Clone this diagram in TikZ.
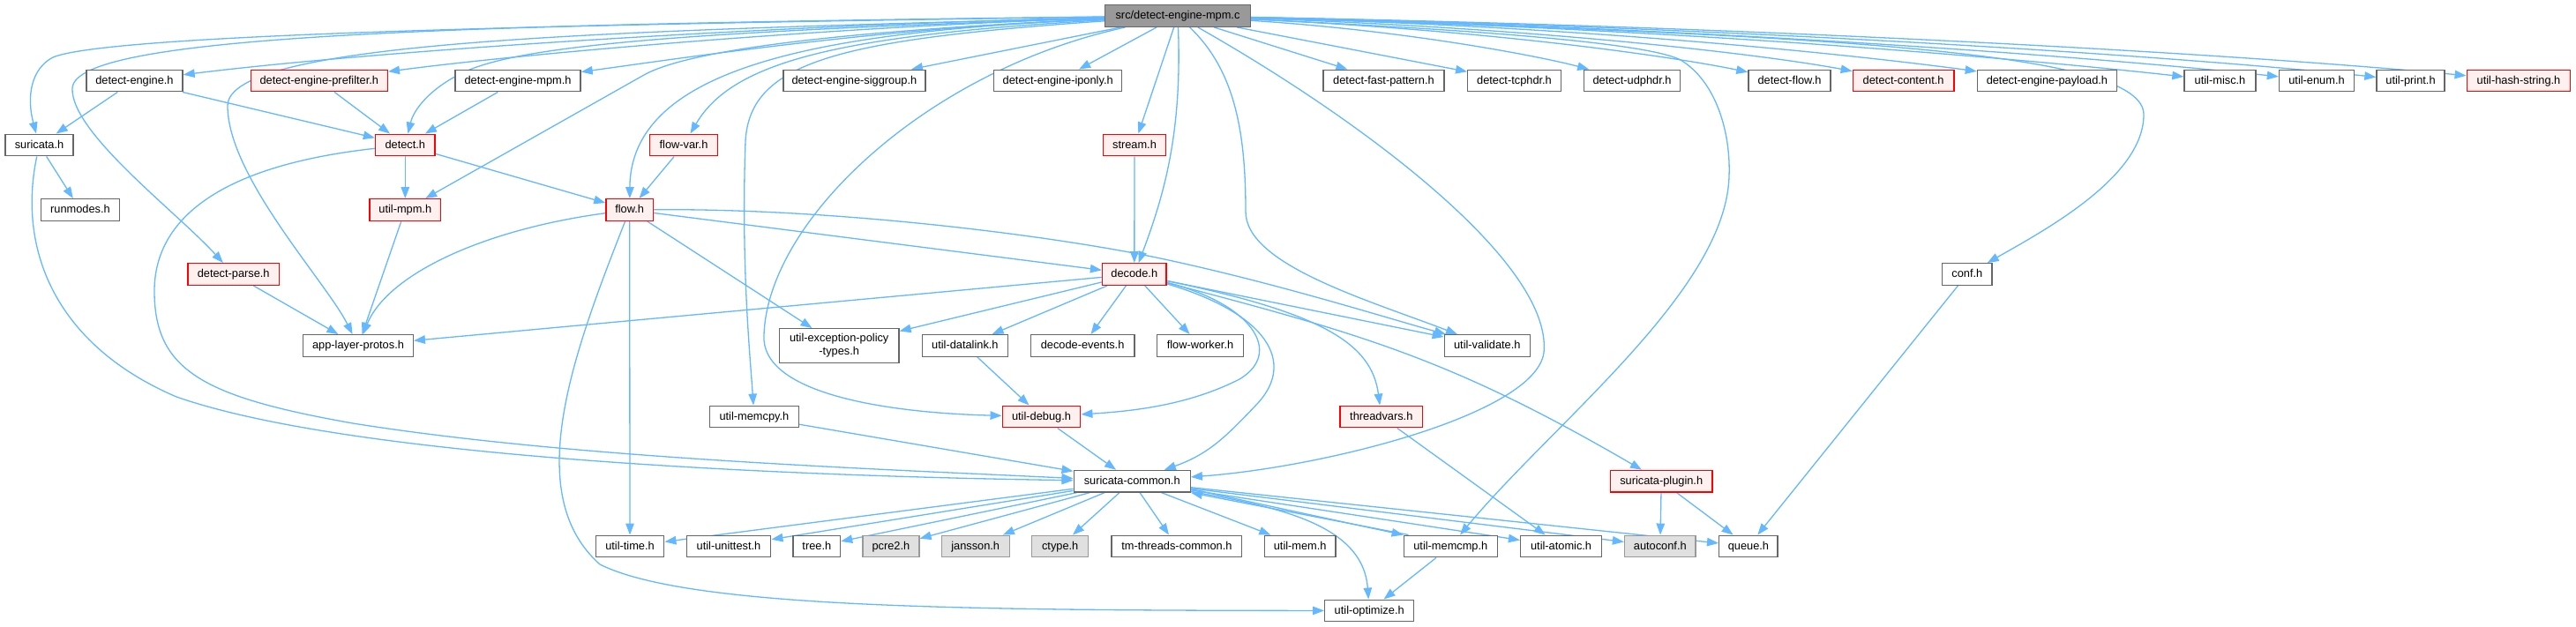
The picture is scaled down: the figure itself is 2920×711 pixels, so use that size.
\documentclass[tikz,border=0pt]{standalone}
\usepackage{fontspec}
\setmainfont{Liberation Sans}
\usetikzlibrary{arrows.meta}
\definecolor{edgeblue}{HTML}{63B8FF}
\definecolor{nodegray}{HTML}{666666}
\definecolor{redfill}{HTML}{FFF0F0}
\definecolor{redline}{HTML}{FF0000}
\definecolor{extfill}{HTML}{E0E0E0}
\definecolor{extline}{HTML}{999999}
\definecolor{mainfill}{HTML}{999999}
\pgfdeclarelayer{bg}
\pgfsetlayers{bg,main}
\begin{document}
\begin{tikzpicture}[x=1pt,y=-1pt,
  base/.style={rectangle, inner sep=0pt, line width=1.4pt, font=\fontsize{12.8}{15}\selectfont, minimum height=24.5pt},
  one/.style={base, text height=10pt, text depth=2.4pt},
  nb/.style={one, draw=nodegray, fill=white, minimum width=#1},
  rb/.style={one, draw=redline, fill=redfill, minimum width=#1},
  xb/.style={one, draw=extline, fill=extfill, minimum width=#1},
  mb/.style={one, draw=nodegray, fill=mainfill, minimum width=#1},
  edg/.style={draw=edgeblue, line width=1.3pt, -{Triangle[length=13pt,width=9.5pt]}}
]
\begin{pgfonlayer}{bg}
\fill[white] (0,0) rectangle (2920,711);
\end{pgfonlayer}
\useasboundingbox (0,0) rectangle (2920,711);

% row 1
\node[mb=165pt] (src) at (1335,18) {src/detect-engine-mpm.c};
% row 2
\node[nb=109pt] (dengine) at (152.5,91.5) {detect-engine.h};
\node[rb=155pt] (dprefilter) at (361.8,91.5) {detect-engine-prefilter.h};
\node[nb=142pt] (dempmh) at (587,91.5) {detect-engine-mpm.h};
\node[nb=161pt] (dsiggroup) at (968.4,91.5) {detect-engine-siggroup.h};
\node[nb=145pt] (diponly) at (1199.2,91.5) {detect-engine-iponly.h};
\node[nb=137pt] (dfastpat) at (1568.5,91.5) {detect-fast-pattern.h};
\node[nb=105.5pt] (dtcphdr) at (1716.5,91.5) {detect-tcphdr.h};
\node[nb=109pt] (dudphdr) at (1850,91.5) {detect-udphdr.h};
\node[nb=93pt] (dflow) at (2028.5,91.5) {detect-flow.h};
\node[rb=114.5pt] (dcontent) at (2157.6,91.5) {detect-content.h};
\node[nb=158pt] (dpayload) at (2320.4,91.5) {detect-engine-payload.h};
\node[nb=81pt] (umisc) at (2516.5,91.5) {util-misc.h};
\node[nb=85pt] (uenum) at (2626,91.5) {util-enum.h};
\node[nb=77pt] (uprint) at (2732.5,91.5) {util-print.h};
\node[rb=117.5pt] (uhash) at (2855,91.5) {util-hash-string.h};
% row 3
\node[nb=77pt] (suricata) at (44.5,164.5) {suricata.h};
\node[rb=67.5pt] (detect) at (459.3,164.5) {detect.h};
\node[rb=77pt] (flowvar) at (775,164.5) {flow-var.h};
\node[rb=71.5pt] (stream) at (1286,164.5) {stream.h};
% row 4
\node[nb=89pt] (runmodes) at (91,238) {runmodes.h};
\node[rb=80.5pt] (umpm) at (459.3,238) {util-mpm.h};
\node[rb=53.5pt] (flow) at (713.7,238) {flow.h};
% row 5
\node[rb=103.5pt] (dparse) at (264.7,311) {detect-parse.h};
\node[rb=72.5pt] (decode) at (1285.8,311) {decode.h};
\node[nb=56.5pt] (conf) at (2229.8,311) {conf.h};
% row 6
\node[nb=124.5pt] (applayer) at (406,392) {app-layer-protos.h};
\node[base, draw=nodegray, fill=white, minimum width=135.5pt, minimum height=38.5pt, align=center] (uexc) at (951.2,392) {util-exception-policy\\-types.h};
\node[nb=97pt] (udatalink) at (1093.9,392) {util-datalink.h};
\node[nb=117.5pt] (devents) at (1227.1,392) {decode-events.h};
\node[nb=97.5pt] (fworker) at (1360.5,392) {flow-worker.h};
\node[nb=97pt] (uvalidate) at (1685.8,392) {util-validate.h};
% row 7
\node[nb=101pt] (umemcpy) at (854.9,472.5) {util-memcpy.h};
\node[rb=88.5pt] (udebug) at (1180.5,472.5) {util-debug.h};
\node[rb=93.5pt] (threadvars) at (1565.8,472.5) {threadvars.h};
% row 8
\node[nb=132pt] (scommon) at (1283.2,545.7) {suricata-common.h};
\node[rb=115.5pt] (splugin) at (1883.2,545.7) {suricata-plugin.h};
% row 9
\node[nb=77.5pt] (utime) at (714,619.5) {util-time.h};
\node[nb=95.5pt] (uunittest) at (826,619.5) {util-unittest.h};
\node[nb=53.5pt] (tree) at (925.8,619.5) {tree.h};
\node[xb=64pt] (pcre) at (1009.9,619.5) {pcre2.h};
\node[xb=77pt] (jansson) at (1105.7,619.5) {jansson.h};
\node[xb=64pt] (ctype) at (1201.7,619.5) {ctype.h};
\node[nb=147.5pt] (tmthreads) at (1333.9,619.5) {tm-threads-common.h};
\node[nb=80.5pt] (umem) at (1473.7,619.5) {util-mem.h};
\node[nb=106pt] (umemcmp) at (1644.3,619.5) {util-memcmp.h};
\node[nb=92pt] (uatomic) at (1769.6,619.5) {util-atomic.h};
\node[xb=80.5pt] (autoconf) at (1881.8,619.5) {autoconf.h};
\node[nb=66.5pt] (queue) at (1981.9,619.5) {queue.h};
% row 10
\node[nb=101pt] (uoptimize) at (1552.2,692.5) {util-optimize.h};

\begin{pgfonlayer}{bg}
% from src, left part
\draw[edg] (src) .. controls (600,28) and (120,40) .. (60,65) .. controls (35,78) and (30,110) .. (suricata);
\draw[edg] (src) .. controls (900,28) and (450,55) .. (dengine);
\draw[edg] (src) .. controls (500,28) and (85,40) .. (82,100) .. controls (80,150) and (200,240) .. (dparse);
\draw[edg] (src) .. controls (700,35) and (258,45) .. (258,120) .. controls (258,200) and (370,320) .. (applayer);
\draw[edg] (src) .. controls (950,30) and (600,60) .. (dprefilter);
\draw[edg] (src) .. controls (800,35) and (600,50) .. (530,80) .. controls (495,95) and (470,120) .. (detect);
\draw[edg] (src) .. controls (1000,32) and (800,62) .. (dempmh);
\draw[edg] (src) .. controls (950,35) and (780,57) .. (730,85) -- (umpm);
\draw[edg] (src) .. controls (950,35) and (715,70) .. (flow);
\draw[edg] (src) .. controls (950,40) and (830,70) .. (flowvar);
\draw[edg] (src) .. controls (950,45) and (850,70) .. (845,160) .. controls (840,300) and (850,400) .. (umemcpy);
\draw[edg] (src) .. controls (1050,80) and (870,250) .. (866,380) .. controls (862,445) and (1000,468) .. (udebug);
\draw[edg] (src) -- (dsiggroup);
\draw[edg] (src) -- (diponly);
\draw[edg] (src) -- (stream);
\draw[edg] (src) .. controls (1340,150) and (1320,220) .. (decode);
\draw[edg] (src) .. controls (1400,80) and (1412,150) .. (1412,240) .. controls (1412,300) and (1550,340) .. (uvalidate);
\draw[edg] (src) .. controls (1550,140) and (1760,300) .. (1750,400) .. controls (1740,470) and (1500,530) .. (scommon);
% from src, right part
\draw[edg] (src) .. controls (1700,35) and (1870,50) .. (1905,68) .. controls (1945,92) and (1962,150) .. (1960,200) .. controls (1956,330) and (1760,480) .. (umemcmp);
\draw[edg] (src) -- (dfastpat);
\draw[edg] (src) -- (dtcphdr);
\draw[edg] (src) .. controls (1600,35) and (1750,65) .. (dudphdr);
\draw[edg] (src) .. controls (1700,35) and (1900,65) .. (dflow);
\draw[edg] (src) .. controls (1750,32) and (2000,62) .. (dcontent);
\draw[edg] (src) .. controls (1800,30) and (2100,62) .. (dpayload);
\draw[edg] (src) .. controls (2100,40) and (2430,60) .. (2430,130) .. controls (2430,200) and (2320,260) .. (conf);
\draw[edg] (src) .. controls (1850,30) and (2250,62) .. (umisc);
\draw[edg] (src) .. controls (1900,30) and (2350,62) .. (uenum);
\draw[edg] (src) .. controls (1950,30) and (2450,62) .. (uprint);
\draw[edg] (src) .. controls (2000,30) and (2550,62) .. (uhash);
% second level
\draw[edg] (dengine) -- (suricata);
\draw[edg] (dengine) -- (detect);
\draw[edg] (dprefilter) -- (detect);
\draw[edg] (dempmh) -- (detect);
\draw[edg] (suricata) -- (runmodes);
\draw[edg] (suricata) .. controls (20,280) and (60,390) .. (200,450) .. controls (400,520) and (900,540) .. (scommon);
\draw[edg] (detect) -- (umpm);
\draw[edg] (detect) -- (flow);
\draw[edg] (detect) .. controls (230,190) and (175,260) .. (175,330) .. controls (175,420) and (230,450) .. (400,480) .. controls (650,520) and (1000,532) .. (scommon);
\draw[edg] (umpm) -- (applayer);
\draw[edg] (dparse) -- (applayer);
\draw[edg] (flowvar) -- (flow);
\draw[edg] (flow) .. controls (550,260) and (440,310) .. (applayer);
\draw[edg] (flow) -- (utime);
\draw[edg] (flow) .. controls (650,400) and (590,560) .. (680,640) .. controls (780,690) and (1100,692) .. (uoptimize);
\draw[edg] (flow) -- (decode);
\draw[edg] (flow) -- (uexc);
\draw[edg] (flow) .. controls (950,236) and (1200,268) .. (1320,294) .. controls (1450,322) and (1570,360) .. (uvalidate);
\draw[edg] (stream) -- (decode);
% decode
\draw[edg] (decode) -- (applayer);
\draw[edg] (decode) -- (uexc);
\draw[edg] (decode) -- (udatalink);
\draw[edg] (decode) -- (devents);
\draw[edg] (decode) -- (fworker);
\draw[edg] (decode) -- (uvalidate);
\draw[edg] (decode) .. controls (1420,345) and (1455,400) .. (1405,430) .. controls (1350,458) and (1290,466) .. (udebug);
\draw[edg] (decode) .. controls (1435,355) and (1470,410) .. (1425,458) .. controls (1390,495) and (1370,515) .. (scommon);
\draw[edg] (decode) .. controls (1500,355) and (1555,390) .. (threadvars);
\draw[edg] (decode) .. controls (1550,380) and (1650,410) .. (splugin);
% lower levels
\draw[edg] (udatalink) -- (udebug);
\draw[edg] (umemcpy) -- (scommon);
\draw[edg] (udebug) -- (scommon);
\draw[edg] (threadvars) -- (uatomic);
\draw[edg] (splugin) -- (autoconf);
\draw[edg] (splugin) -- (queue);
\draw[edg] (conf) -- (queue);
\draw[edg] (umemcmp) -- (uoptimize);
\draw[edg] (scommon) -- (utime);
\draw[edg] (scommon) -- (uunittest);
\draw[edg] (scommon) -- (tree);
\draw[edg] (scommon) -- (pcre);
\draw[edg] (scommon) -- (jansson);
\draw[edg] (scommon) -- (ctype);
\draw[edg] (scommon) -- (tmthreads);
\draw[edg] (scommon) -- (umem);
\draw[edg] ([yshift=4pt]scommon.south east) -- (umemcmp.north west);
\draw[edg] ([xshift=6pt]umemcmp.north west) -- (scommon.south east);
\draw[edg] (scommon) -- (uatomic);
\draw[edg] (scommon) -- (autoconf);
\draw[edg] (scommon) -- (queue);
\draw[edg] (scommon) .. controls (1450,575) and (1545,595) .. (uoptimize);
\end{pgfonlayer}
\end{tikzpicture}
\end{document}
